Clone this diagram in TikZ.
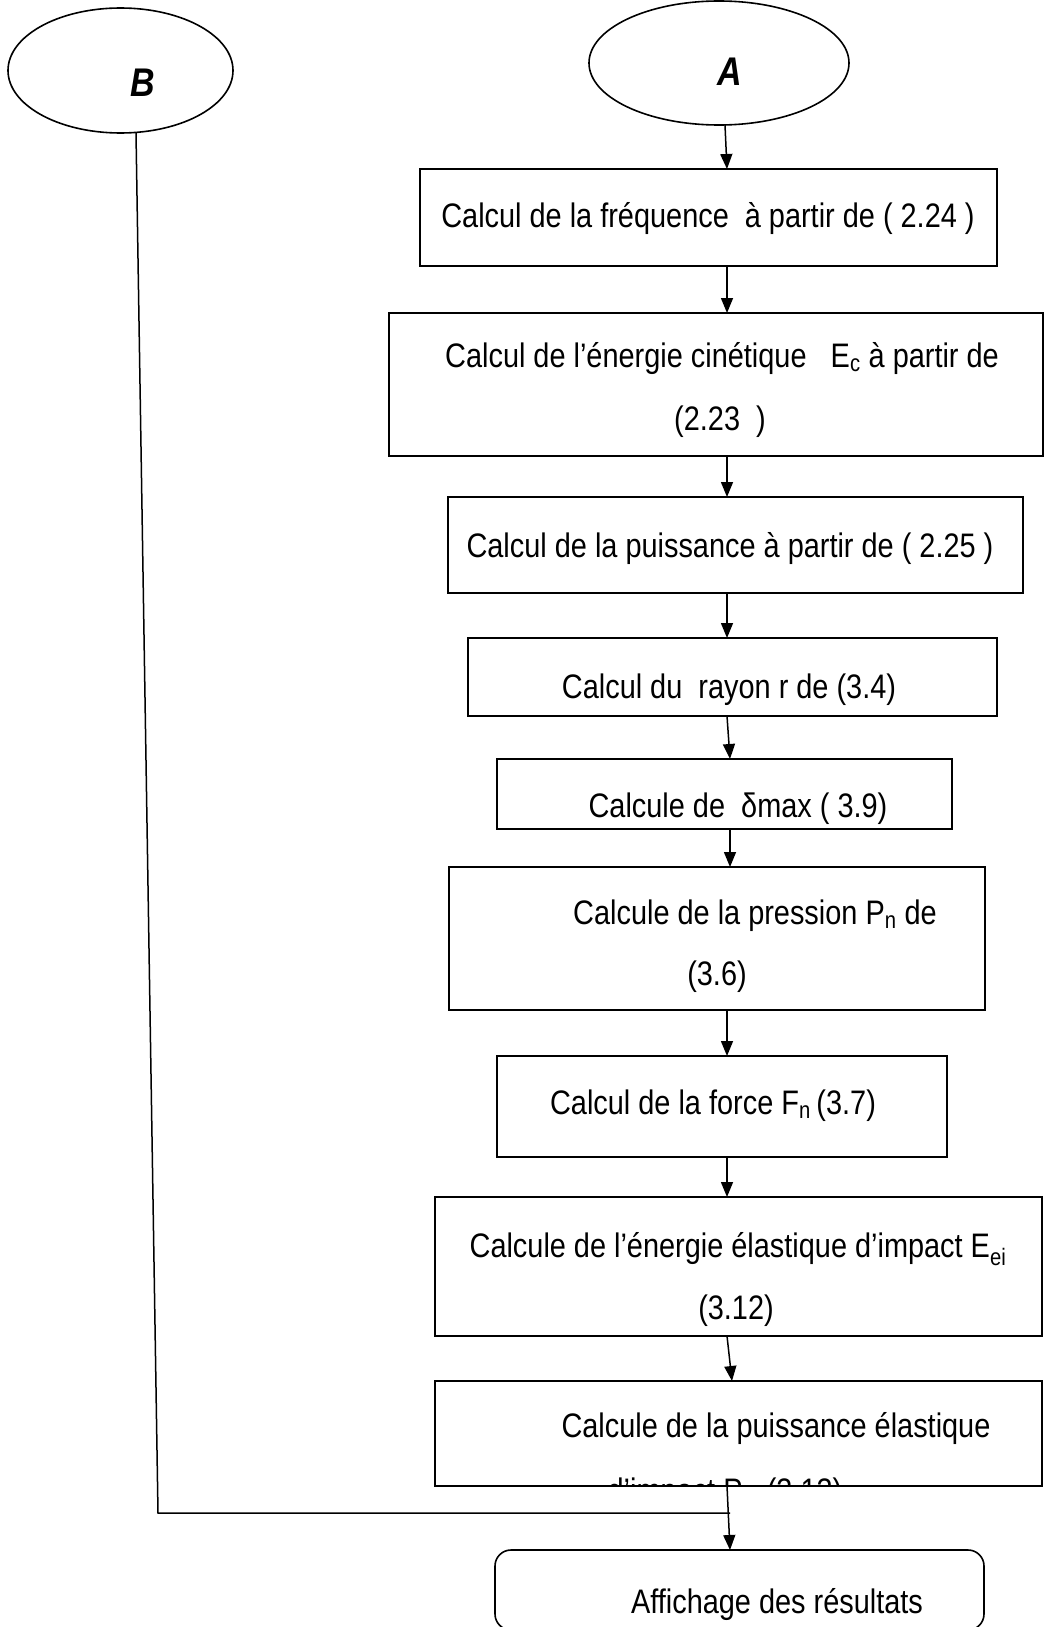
\documentclass[tikz,border=0pt]{standalone}
\usepackage{fontspec}
\setmainfont{Liberation Sans}[FakeStretch=0.85]
\usetikzlibrary{arrows.meta,shapes.geometric}
\newcommand{\sbs}[1]{\textsubscript{#1}}
\begin{document}
\begin{tikzpicture}[x=1pt,y=-1pt,
  every node/.style={font=\fontsize{34}{40}\selectfont},
  box/.style={draw,line width=1.6pt,inner sep=0pt,outer sep=0pt},
  oval/.style={draw,ellipse,line width=1.6pt,inner sep=0pt,outer sep=0pt},
  lbl/.style={inner sep=0pt,anchor=base},
  big/.style={inner sep=0pt,anchor=base,font=\fontsize{40}{44}\selectfont\bfseries\itshape},
  arr/.style={line width=1.5pt,-{Triangle[length=15pt,width=12pt]}},
  ln/.style={line width=1.5pt}]
\useasboundingbox (0,0) rectangle (1045,1627);
% ovals
\node[oval,minimum width=225pt,minimum height=125pt] (B) at (120.5,70.5) {};
\node[oval,minimum width=260pt,minimum height=124pt] (A) at (719,63) {};
\node[big] (Bt) at (143,97) {B};
\node[big] (At) at (730,86) {A};
% boxes
\node[box,minimum width=577pt,minimum height=97pt] (b1) at (708.5,217.5) {};
\node[box,minimum width=654pt,minimum height=143pt] (b2) at (716,384.5) {};
\node[box,minimum width=575pt,minimum height=96pt] (b3) at (735.5,545) {};
\node[box,minimum width=529pt,minimum height=78pt] (b4) at (732.5,677) {};
\node[box,minimum width=455pt,minimum height=70pt] (b5) at (724.5,794) {};
\node[box,minimum width=536pt,minimum height=143pt] (b6) at (717,938.5) {};
\node[box,minimum width=450pt,minimum height=101pt] (b7) at (722,1106.5) {};
\node[box,minimum width=607pt,minimum height=139pt] (b8) at (738.5,1266.5) {};
\node[box,minimum width=607pt,minimum height=105pt] (b9) at (738.5,1433.5) {};
\node[box,rounded corners=16pt,minimum width=489pt,minimum height=80pt] (fin) at (739.5,1590) {};
% texts
\node[lbl] (t1) at (708,227) {Calcul de la fréquence\ \ à partir de ( 2.24 )};
\node[lbl] (t2a) at (722,367) {Calcul de l’énergie cinétique\ \ \ E\sbs{c} à partir de};
\node[lbl] (t2b) at (720,430) {(2.23\ \ )};
\node[lbl] (t3) at (730,557) {Calcul de la puissance à partir de ( 2.25 )};
\node[lbl] (t4) at (729,698) {Calcul du\ \ rayon r de (3.4)};
\node[lbl] (t5) at (738,817) {Calcule de\ \ δmax ( 3.9)};
\node[lbl] (t6a) at (755,924) {Calcule de la pression P\sbs{n} de};
\node[lbl] (t6b) at (717,985) {(3.6)};
\node[lbl] (t7) at (713,1114) {Calcul de la force F\sbs{n}\,(3.7)};
\node[lbl] (t8a) at (738,1257) {Calcule de l’énergie élastique d’impact E\sbs{ei}};
\node[lbl] (t8b) at (736,1319) {(3.12)};
\node[lbl] (t9a) at (776,1437) {Calcule de la puissance élastique};
\begin{scope}
\clip (435,1381) rectangle (1042,1484);
\node[lbl] (t9b) at (725,1502) {d’impact P\sbs{ei} (3.13)};
\end{scope}
\node[lbl] (tf) at (777,1613) {Affichage des résultats};
% connectors
\coordinate (xa) at (727,0);
\coordinate (xb) at (730,0);
\coordinate (xc) at (732,0);
\coordinate (j) at (730,1513);
\coordinate (bl) at (158,1513);
\draw[arr] (A.south -| 725,0) -- (b1.north -| xa);
\draw[arr] (b1.south -| xa) -- (b2.north -| xa);
\draw[arr] (b2.south -| xa) -- (b3.north -| xa);
\draw[arr] (b3.south -| xa) -- (b4.north -| xa);
\draw[arr] (b4.south -| xa) -- (b5.north -| xb);
\draw[arr] (b5.south -| xb) -- (b6.north -| xb);
\draw[arr] (b6.south -| xa) -- (b7.north -| xa);
\draw[arr] (b7.south -| xa) -- (b8.north -| xa);
\draw[arr] (b8.south -| xa) -- (b9.north -| xc);
\draw[arr] (b9.south -| xa) -- (fin.north -| xb);
\draw[ln] (B.south -| 136,0) -- (bl) -- (j);
\end{tikzpicture}
\end{document}
